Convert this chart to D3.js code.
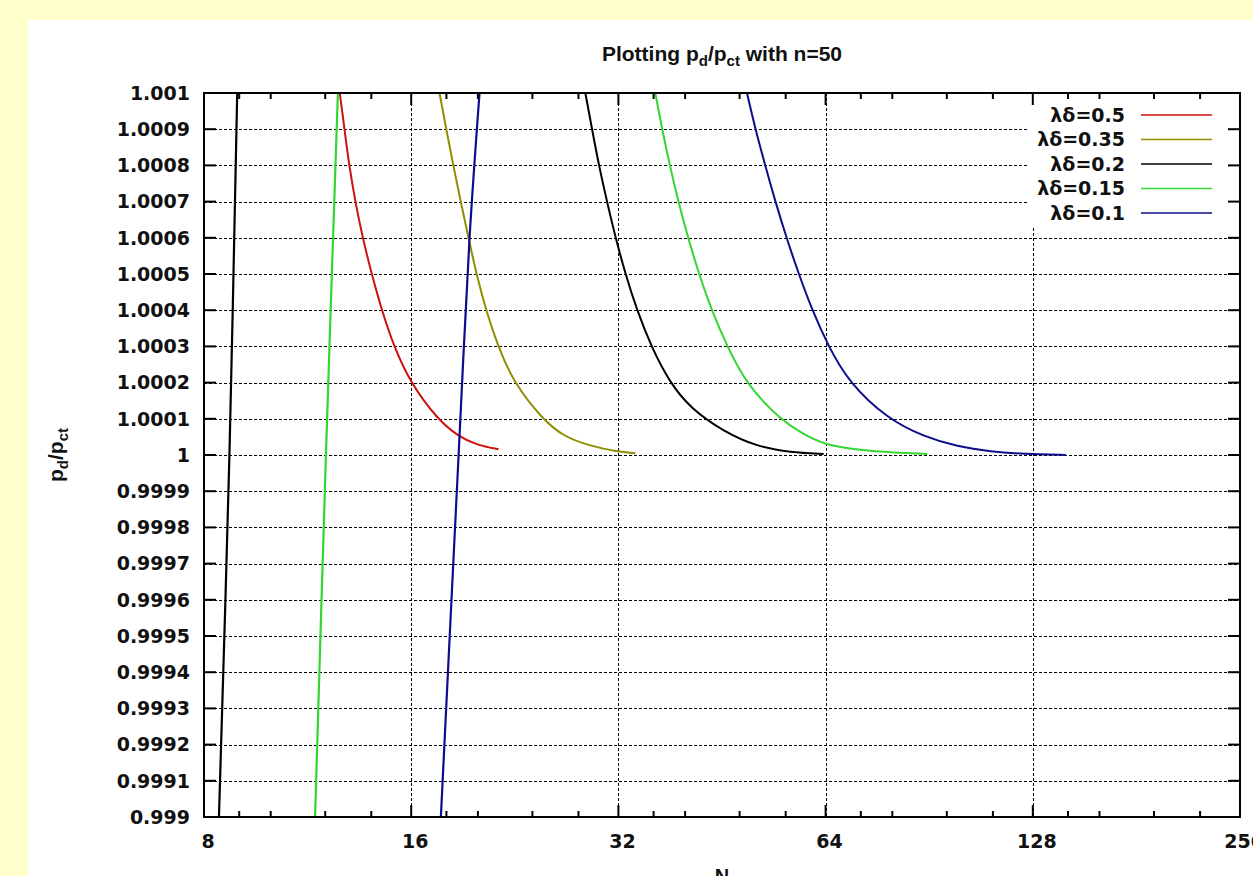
<!DOCTYPE html>
<html>
<head>
<meta charset="utf-8">
<script src="https://cdn.jsdelivr.net/npm/d3@7/dist/d3.min.js"></script>
<style>
  html, body { margin: 0; padding: 0; background: #ffffcc; }
  svg { display: block; }
</style>
</head>
<body>
<svg id="chart" width="1253" height="876"></svg>
<script>
// ---------- DATA ----------
const xTickValues = [8, 16, 32, 64, 128, 256];
const xMinorFactors = [1.125, 1.25, 1.5, 1.75];
const yTickValues = [1.001, 1.0009, 1.0008, 1.0007, 1.0006, 1.0005, 1.0004, 1.0003, 1.0002, 1.0001, 1,
                     0.9999, 0.9998, 0.9997, 0.9996, 0.9995, 0.9994, 0.9993, 0.9992, 0.9991, 0.999];
const yTickLabels = ["1.001", "1.0009", "1.0008", "1.0007", "1.0006", "1.0005", "1.0004", "1.0003", "1.0002", "1.0001", "1",
                     "0.9999", "0.9998", "0.9997", "0.9996", "0.9995", "0.9994", "0.9993", "0.9992", "0.9991", "0.999"];
const seriesLabels = ["λδ=0.5", "λδ=0.35", "λδ=0.2", "λδ=0.15", "λδ=0.1"];

// decaying branches [N, p_d/p_ct]
const redDecay = [[12.6,1.001],[12.8,1.0009],[13.0,1.0008],[13.27,1.0007],[13.6,1.0006],[14.02,1.0005],
  [14.5,1.0004],[15.1,1.0003],[15.95,1.0002],[17.44,1.0001],[18.75,1.0000506],[19.94,1.0000276],[21.43,1.0000157]];
const oliveDecay = [[17.59,1.001],[17.99,1.0009],[18.42,1.0008],[18.88,1.0007],[19.38,1.0006],[19.9,1.0005],
  [20.55,1.0004],[21.39,1.0003],[22.54,1.0002],[24.79,1.0001],[26.64,1.0000506],[29.14,1.0000249],
  [31.86,1.0000092],[33.87,1.0000047]];
const blackDecay = [[28.65,1.001],[29.3,1.0009],[29.98,1.0008],[30.8,1.0007],[31.7,1.0006],[32.76,1.0005],
  [34.05,1.0004],[35.7,1.0003],[38.0,1.0002],[40.73,1.000129],[45.54,1.0000644],[50.91,1.000023],
  [56.9,1.0000074],[63.6,1.0000028]];
const greenDecay = [[36.2,1.001],[37.05,1.0009],[38.0,1.0008],[39.1,1.0007],[40.4,1.0006],[41.9,1.0005],
  [43.7,1.0004],[46.05,1.0003],[48.96,1.0002],[54.74,1.0001],[60.2,1.0000506],[65.08,1.000023],
  [75.2,1.0000092],[89.96,1.0000028]];
const blueDecay = [[49.2,1.001],[50.6,1.0009],[52.3,1.0008],[54.1,1.0007],[56.15,1.0006],[58.5,1.0005],
  [61.2,1.0004],[64.6,1.0003],[69.2,1.0002],[78.7,1.0001],[88.95,1.0000506],[99.5,1.000023],
  [111.2,1.0000092],[124.3,1.0000028],[143,1.0]];
// steep branches
const blackSteep = [[8.41,0.999],[8.71,1.0],[8.94,1.001]];
const greenSteep = [[11.6,0.999],[12.03,1.0],[12.52,1.001]];
const blueSteep = [[17.67,0.999],[18.2,0.9995],[18.75,1.0],[19.45,1.0006],[20.11,1.001]];

// ---------- STYLE ----------
const seriesColors = ["#cc1111", "#8e8e00", "#000000", "#33d633", "#0d0d8c"];
const curves = [
  {data: redDecay, c: 0}, {data: oliveDecay, c: 1}, {data: blackDecay, c: 2},
  {data: greenDecay, c: 3}, {data: blueDecay, c: 4},
  {data: blackSteep, c: 2}, {data: greenSteep, c: 3}, {data: blueSteep, c: 4}
];

const svg = d3.select("#chart");
const W = 1253, H = 876;
const L = 204, R = 1240, T = 93, B = 817;
const tickFont = "'DejaVu Sans', sans-serif";
const textFont = "'Liberation Sans', Arial, sans-serif";

// white panel
svg.append("rect").attr("x", 28).attr("y", 20).attr("width", W - 28).attr("height", H - 20).attr("fill", "#ffffff");

const x = d3.scaleLog().base(2).domain([8, 256]).range([L, R]);
const y = d3.scaleLinear().domain([0.999, 1.001]).range([B, T]);

// grid
const grid = svg.append("g").attr("stroke", "#000").attr("stroke-width", 1).attr("stroke-dasharray", "3,2");
yTickValues.filter(v => v < 1.00095 && v > 0.99905).forEach(v => {
  grid.append("line").attr("x1", L).attr("x2", R).attr("y1", Math.round(y(v)) + 0.5).attr("y2", Math.round(y(v)) + 0.5);
});
xTickValues.filter(v => v > 8 && v < 256).forEach(v => {
  grid.append("line").attr("x1", Math.round(x(v)) + 0.5).attr("x2", Math.round(x(v)) + 0.5).attr("y1", T).attr("y2", B);
});

// legend box (opaque, hides grid)
svg.append("rect").attr("x", 1027).attr("y", T + 1).attr("width", R - 1027 - 1).attr("height", 132).attr("fill", "#fff");

// curves
svg.append("clipPath").attr("id", "clip").append("rect").attr("x", L).attr("y", T).attr("width", R - L).attr("height", B - T);
const lineDecay = d3.line().x(d => x(d[0])).y(d => y(d[1])).curve(d3.curveBasis);
const lineSteep = d3.line().x(d => x(d[0])).y(d => y(d[1])).curve(d3.curveCatmullRom.alpha(0.5));
const cg = svg.append("g").attr("clip-path", "url(#clip)");
curves.forEach((s, i) => {
  cg.append("path").datum(s.data)
    .attr("d", i < 5 ? lineDecay : lineSteep)
    .attr("fill", "none").attr("stroke", seriesColors[s.c]).attr("stroke-width", i < 5 ? 2 : 2.2);
});

// ticks
const tk = svg.append("g").attr("stroke", "#000").attr("stroke-width", 2);
yTickValues.forEach(v => {
  const yy = y(v);
  tk.append("line").attr("x1", L).attr("x2", L + 12).attr("y1", yy).attr("y2", yy);
  tk.append("line").attr("x1", R).attr("x2", R - 12).attr("y1", yy).attr("y2", yy);
});
xTickValues.forEach(v => {
  const xx = x(v);
  tk.append("line").attr("x1", xx).attr("x2", xx).attr("y1", B).attr("y2", B - 12);
  tk.append("line").attr("x1", xx).attr("x2", xx).attr("y1", T).attr("y2", T + 12);
  if (v < 256) {
    xMinorFactors.forEach(f => {
      const mx = x(v * f);
      tk.append("line").attr("x1", mx).attr("x2", mx).attr("y1", B).attr("y2", B - 6);
      tk.append("line").attr("x1", mx).attr("x2", mx).attr("y1", T).attr("y2", T + 6);
    });
  }
});

// border
svg.append("rect").attr("x", L).attr("y", T).attr("width", R - L).attr("height", B - T)
  .attr("fill", "none").attr("stroke", "#000").attr("stroke-width", 2);

// y tick labels
yTickValues.forEach((v, i) => {
  svg.append("text").attr("x", 190).attr("y", y(v)).attr("dy", "0.36em")
    .attr("text-anchor", "end").attr("font-family", tickFont).attr("font-weight", "bold")
    .attr("font-size", 19).attr("fill", "#111").text(yTickLabels[i]);
});
// x tick labels
xTickValues.forEach(v => {
  svg.append("text").attr("x", x(v) + 4).attr("y", 848)
    .attr("text-anchor", "middle").attr("font-family", tickFont).attr("font-weight", "bold")
    .attr("font-size", 19).attr("fill", "#111").text(String(v));
});

// legend
seriesLabels.forEach((lab, i) => {
  const ly = 115 + i * 24.5;
  svg.append("text").attr("x", 1125).attr("y", ly).attr("dy", "0.36em")
    .attr("text-anchor", "end").attr("font-family", tickFont).attr("font-weight", "bold")
    .attr("font-size", 19).attr("fill", "#111").text(lab);
  svg.append("line").attr("x1", 1141).attr("x2", 1212).attr("y1", ly).attr("y2", ly)
    .attr("stroke", seriesColors[i]).attr("stroke-width", 1.5);
});

// title
const title = svg.append("text").attr("x", 722).attr("y", 61).attr("text-anchor", "middle")
  .attr("font-family", textFont).attr("font-weight", "bold")
  .attr("font-size", 21).attr("fill", "#111");
title.append("tspan").text("Plotting p");
title.append("tspan").attr("dy", 5).attr("font-size", 15).text("d");
title.append("tspan").attr("dy", -5).text("/p");
title.append("tspan").attr("dy", 5).attr("font-size", 15).text("ct");
title.append("tspan").attr("dy", -5).text(" with n=50");

// y label
const yl = svg.append("text").attr("transform", "translate(63,455) rotate(-90)").attr("text-anchor", "middle")
  .attr("font-family", textFont).attr("font-weight", "bold")
  .attr("font-size", 21).attr("fill", "#111");
yl.append("tspan").text("p");
yl.append("tspan").attr("dy", 5).attr("font-size", 15).text("d");
yl.append("tspan").attr("dy", -5).text("/p");
yl.append("tspan").attr("dy", 5).attr("font-size", 15).text("ct");

// x label
svg.append("text").attr("x", 722).attr("y", 883).attr("text-anchor", "middle")
  .attr("font-family", textFont).attr("font-weight", "bold")
  .attr("font-size", 20).attr("fill", "#111").text("N");
</script>
</body>
</html>
